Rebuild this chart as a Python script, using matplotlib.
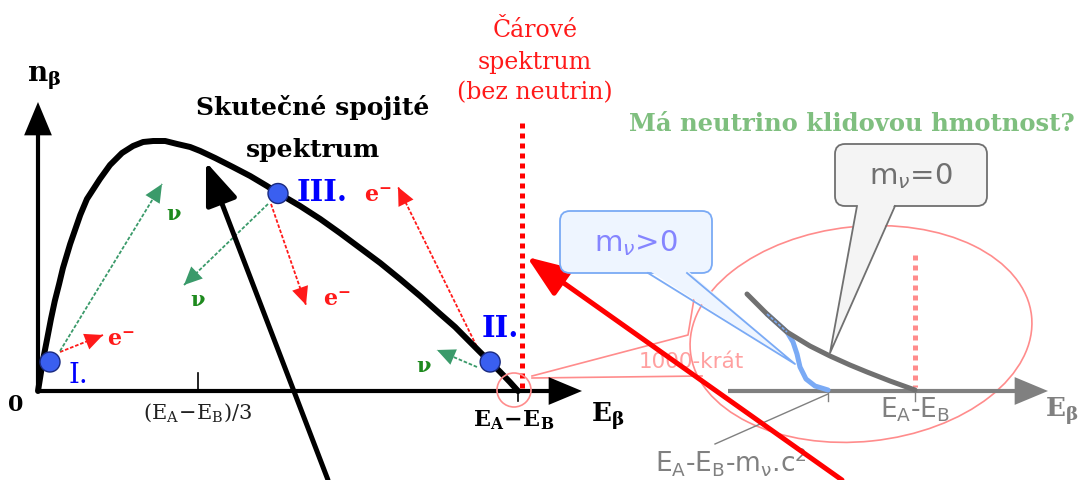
import numpy as np
import matplotlib.pyplot as plt
from matplotlib.patches import Ellipse, FancyBboxPatch, Polygon, Circle

# beta spectrum: energy as fraction of E_A-E_B, count as fraction of maximum
spec_E = [0.0, 0.004, 0.010, 0.019, 0.027, 0.035, 0.044, 0.052, 0.067, 0.088,
          0.102, 0.129, 0.150, 0.175, 0.198, 0.219, 0.240, 0.265, 0.290, 0.317,
          0.338, 0.369, 0.406, 0.442, 0.477, 0.500, 0.546, 0.588, 0.629, 0.671,
          0.713, 0.754, 0.796, 0.838, 0.869, 0.900, 0.925, 0.942, 0.963, 0.983,
          1.0]
spec_n = [0.0, 0.048, 0.120, 0.208, 0.288, 0.360, 0.428, 0.492, 0.588, 0.704,
          0.768, 0.848, 0.904, 0.952, 0.980, 0.996, 1.0, 1.0, 0.988, 0.976,
          0.960, 0.932, 0.896, 0.860, 0.820, 0.792, 0.740, 0.688, 0.632, 0.572,
          0.512, 0.448, 0.380, 0.308, 0.256, 0.196, 0.148, 0.116, 0.076, 0.036,
          0.0]

# decay examples on the spectrum (E, n)
points = {"I.": (0.025, 0.116), "III.": (0.50, 0.79), "II.": (0.942, 0.116)}

# magnified end of the spectrum (px), for m_nu = 0 and m_nu > 0
end_m0_x = [747, 767, 787, 810, 830, 850, 867, 890, 915]
end_m0_y = [295, 315, 333, 347, 357, 366, 373, 382, 391]
end_m1_x = [767, 787, 793, 797, 800, 806, 815, 828]
end_m1_y = [315, 333, 343, 355, 368, 380, 387, 391]

X0, Y0, SX, SY = 38, 392, 480, 250


def px(e, c):
    return X0 + SX * np.asarray(e), Y0 - SY * np.asarray(c)


fig = plt.figure(figsize=(10.81, 4.81), dpi=100)
ax = fig.add_axes([0, 0, 1, 1])
ax.set_xlim(0, 1081)
ax.set_ylim(481, 0)
ax.axis("off")

SERIF = "DejaVu Serif"
SANS = "DejaVu Sans"


def head(p0, p1, color, scale=20, hl=0.65, hw=0.3, lw=0.0):
    ax.annotate("", xy=p1, xytext=p0,
                arrowprops=dict(arrowstyle=f"-|>,head_length={hl},head_width={hw}",
                                color=color, lw=lw, mutation_scale=scale,
                                shrinkA=0, shrinkB=0))


def dotted_arrow(p0, p1, color, lw=1.3):
    ax.plot([p0[0], p1[0]], [p0[1], p1[1]], color=color, lw=lw, ls=(0, (2, 1)))
    d = np.array(p1, float) - np.array(p0, float)
    d /= np.hypot(*d)
    head(tuple(np.array(p1) - d * 14), p1, color)


# axes of the main graph
ax.plot([X0, X0], [Y0, 120], color="black", lw=3, solid_capstyle="butt")
head((X0, 140), (X0, 103), "black", scale=20, hl=1.2, hw=0.5)
ax.plot([X0, 550], [Y0, Y0], color="black", lw=3, solid_capstyle="butt")
head((550, Y0), (582, Y0), "black", scale=20, hl=1.2, hw=0.5)
tx, _ = px(1 / 3, 0)
ax.plot([tx, tx], [Y0 - 18, Y0], color="black", lw=1.2)
ex, _ = px(1.0, 0)
ax.plot([ex, ex], [Y0, Y0 + 10], color="black", lw=1.2)

# line spectrum without neutrinos
ax.plot([522, 522], [124, Y0], color="red", lw=3.6, ls=(0, (1, 1)),
        dash_capstyle="butt")

# continuous spectrum
sx, sy = px(spec_E, spec_n)
ax.plot(sx, sy, color="black", lw=4.3, solid_capstyle="round",
        solid_joinstyle="round", zorder=3)

# electron / neutrino momenta
red, green, green_txt = "#ff1a1a", "#3a9a6a", "#1e8a1e"
dotted_arrow((60, 353), (103, 336), red)
dotted_arrow((60, 352), (162, 185), green)
dotted_arrow((271, 205), (306, 306), red)
dotted_arrow((268, 205), (184, 286), green)
dotted_arrow((479, 352), (398, 188), red)
dotted_arrow((477, 368), (437, 351), green)

emath = dict(color=red, fontsize=16, math_fontfamily="dejavuserif",
             ha="center", va="center")
ax.text(121, 340, r"$\mathbf{e^{-}}$", **emath)
ax.text(337, 300, r"$\mathbf{e^{-}}$", **emath)
ax.text(378, 196, r"$\mathbf{e^{-}}$", **emath)
nu = dict(color=green_txt, fontsize=15, family=SERIF, weight="bold",
          ha="center", va="center")
ax.text(174, 214, "ν", **nu)
ax.text(198, 300, "ν", **nu)
ax.text(424, 366, "ν", **nu)

for lab, (pe, pn) in points.items():
    cx, cy = px(pe, pn)
    ax.add_patch(Circle((cx, cy), 10, fc="#3a5ff0", ec="#1a2a80", lw=1, zorder=4))
ax.text(68, 376, "I.", color="blue", fontsize=20, family=SERIF, va="center")
ax.text(297, 193, "III.", color="blue", fontsize=21, family=SERIF,
        weight="bold", va="center")
ax.text(482, 329, "II.", color="blue", fontsize=21, family=SERIF,
        weight="bold", va="center")

# axis labels
ax.text(44, 78, r"$\mathbf{n_{\beta}}$", fontsize=20, math_fontfamily="dejavuserif",
        ha="center", va="center")
ax.text(16, 405, "0", fontsize=16, family=SERIF, weight="bold",
        ha="center", va="center")
ax.text(tx, 413, r"$(\mathrm{E_A}\!-\!\mathrm{E_B})/3$", fontsize=15,
        math_fontfamily="dejavuserif", ha="center", va="center", color="#222222")
ax.text(514, 420, r"$\mathbf{E_A\!-\!E_B}$", fontsize=16,
        math_fontfamily="dejavuserif", ha="center", va="center")
ax.text(608, 416, r"$\mathbf{E_{\beta}}$", fontsize=19,
        math_fontfamily="dejavuserif", ha="center", va="center")

ax.text(313, 108, "Skutečné spojité", fontsize=18, family=SERIF, weight="bold",
        ha="center", va="center")
ax.text(313, 150, "spektrum", fontsize=18, family=SERIF, weight="bold",
        ha="center", va="center")
ax.text(535, 62, "Čárové\nspektrum\n(bez neutrin)", fontsize=17, family=SERIF,
        color=red, ha="center", va="center", linespacing=1.45)
ax.text(852, 124, "Má neutrino klidovou hmotnost?", fontsize=17.5, family=SERIF,
        weight="bold", color="#7fbf7f", ha="center", va="center")

# magnification of the spectrum end
pink = "#ff8c8c"
ax.add_patch(Circle((514, 391), 17, fc="none", ec=pink, lw=1.2, zorder=5))
ax.add_patch(Ellipse((861, 335), 343, 215, angle=-6, fc="none", ec=pink, lw=1.2))
ax.plot([532, 688, 694], [377, 336, 300], color=pink, lw=1.2)
ax.plot([532, 702], [379, 377], color=pink, lw=1.2)
ax.text(691, 362, "1000-krát", fontsize=15.5, family=SANS, color="#ffa0a0",
        ha="center", va="center")

gray = "#808080"
ax.plot([728, 1020], [392, 392], color=gray, lw=3, solid_capstyle="butt")
head((1015, 392), (1048, 392), gray, scale=20, hl=1.2, hw=0.5)
ax.plot([828, 828], [392, 402], color=gray, lw=1)
ax.plot([915, 915], [392, 402], color=gray, lw=1)
ax.plot([828, 715], [395, 445], color=gray, lw=1)
ax.plot([915, 915], [256, 388], color=pink, lw=3.6, ls=(0, (1, 1)),
        dash_capstyle="butt")
ax.plot(end_m1_x, end_m1_y, color="#7aaaf5", lw=3.6, solid_capstyle="round", zorder=3)
ax.plot(end_m0_x, end_m0_y, color="#707070", lw=3.6, solid_capstyle="round", zorder=3)
ax.plot(end_m1_x[:2], end_m1_y[:2], color="#7aaaf5", lw=1.2, ls=(0, (2, 1)), zorder=4)

ax.text(915, 410, r"$\mathrm{E_A}$-$\mathrm{E_B}$", fontsize=19, family=SANS,
        color=gray, ha="center", va="center")
ax.text(731, 462, r"$\mathrm{E_A}$-$\mathrm{E_B}$-$\mathrm{m_\nu}$.$\mathrm{c^2}$",
        fontsize=19, family=SANS, color=gray, ha="center", va="center")
ax.text(1062, 411, r"$\mathbf{E_{\beta}}$", fontsize=19, color=gray,
        math_fontfamily="dejavuserif", ha="center", va="center")


# speech-bubble callouts
def callout(x0, y0, x1, y1, base, tip, fc, ec, text, tc):
    ax.add_patch(FancyBboxPatch((x0, y0), x1 - x0, y1 - y0,
                                boxstyle="round,pad=0,rounding_size=10",
                                fc=fc, ec=ec, lw=1.3, zorder=5))
    ax.add_patch(Polygon([(base[0], y1 - 3), (base[1], y1 - 3), tip],
                         closed=True, fc=fc, ec="none", zorder=6))
    ax.plot([base[0], tip[0], base[1]], [y1, tip[1], y1], color=ec, lw=1.3, zorder=7)
    ax.text((x0 + x1) / 2, (y0 + y1) / 2, text, fontsize=21, family=SANS,
            color=tc, ha="center", va="center", zorder=8)


callout(560, 212, 712, 274, (648, 687), (795, 365), "#eef5ff", "#7aaaf5",
        r"m$_\nu$>0", "#8585ff")
callout(835, 145, 987, 207, (857, 895), (830, 354), "#f4f4f4", "#707070",
        r"m$_\nu$=0", "#707070")

# pointers to the two spectra
head((328, 481), (206, 163), "black", scale=20, hl=1.3, hw=0.5, lw=3.6)
head((842, 481), (527, 258), "red", scale=20, hl=1.3, hw=0.5, lw=3.6)

fig.savefig("out.png", dpi=100)
